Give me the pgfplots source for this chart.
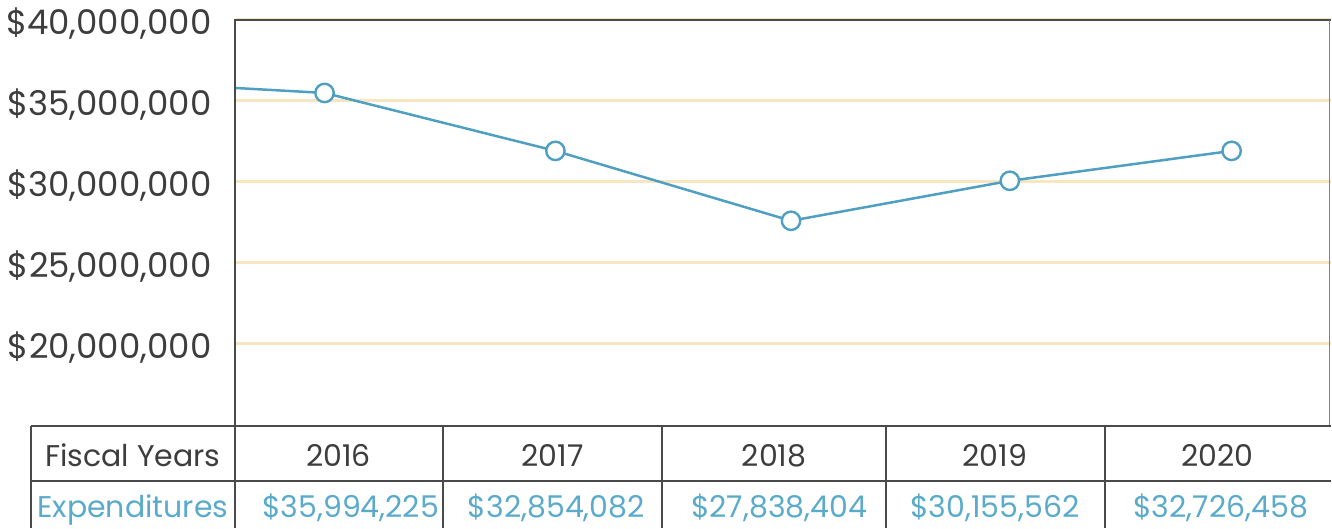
\documentclass[border=0pt]{standalone}
\usepackage{pgfplots}
\pgfplotsset{compat=1.18}
\usepackage{fontspec}
\setmainfont{Poppins}
\definecolor{ink}{HTML}{3D3D3D}
\definecolor{framegray}{HTML}{4A4A4A}
\definecolor{lineblue}{HTML}{4E9FC2}
\definecolor{textblue}{HTML}{5AAACB}
\definecolor{gridbeige}{HTML}{F8E6C2}

\begin{document}
\begin{tikzpicture}
% axis placed in pt; pixel p maps to 0.5p pt, image top-left at origin
\begin{axis}[
    at={(117.5pt,-212.5pt)}, anchor=south west,
    scale only axis,
    width=548.5pt, height=202.5pt,
    xmin=2015.604, xmax=2020.436,
    ymin=15000000, ymax=40000000,
    axis line style={draw=none},
    xtick=\empty,
    ytick={20000000,25000000,30000000,35000000,40000000},
    yticklabels={{\$20,000,000},{\$25,000,000},{\$30,000,000},{\$35,000,000},{\$40,000,000}},
    scaled y ticks=false,
    major tick length=0pt,
    yticklabel style={font=\fontsize{17}{20}\selectfont, text=ink,
        anchor=base east, inner sep=0pt, xshift=-11.5pt, yshift=-7.5pt},
    ymajorgrids,
    major grid style={gridbeige, line width=1.5pt},
    clip=false,
]
    % left point is where the line leaves the plot edge
    \addplot[lineblue, line width=1.25pt, mark=*, mark indices={2,...,6},
        mark size=4.6pt, mark options={fill=white, draw=lineblue, line width=1.2pt}]
        coordinates {
        (2015.604, 35800000)
        (2016.000, 35490000)
        (2017.018, 31910000)
        (2018.057, 27590000)
        (2019.022, 30060000)
        (2020.000, 31910000)
    };
\end{axis}

\begin{scope}[x=0.5pt,y=-0.5pt]
\path[use as bounding box] (0,0) rectangle (1332,529);
% frame
\draw[framegray, line width=1pt] (234.5,20) -- (1332,20);
\draw[gray, line width=0.5pt] (1330.5,20) -- (1330.5,426);
\draw[framegray, line width=1pt] (235,20) -- (235,529);

% table
\draw[framegray, line width=1pt] (31,426) -- (1332,426);
\draw[framegray, line width=1pt] (31,482) -- (1332,482);
\foreach \xx in {31,443,663,887,1106}
    \draw[framegray, line width=1pt] (\xx,426) -- (\xx,529);

\begin{scope}[every node/.style={anchor=base, inner sep=0pt, font=\fontsize{15}{18}\selectfont}]
\node[text=ink] at (133,467.5) {Fiscal Years};
\node[text=ink] at (339,467.5) {2016};
\node[text=ink] at (553,467.5) {2017};
\node[text=ink] at (775,467.5) {2018};
\node[text=ink] at (996,467.5) {2019};
\node[text=ink] at (1219,467.5) {2020};
\node[text=textblue] at (133,518) {Expenditures};
\node[text=textblue] at (351,518) {\$35,994,225};
\node[text=textblue] at (557,518) {\$32,854,082};
\node[text=textblue] at (780,518) {\$27,838,404};
\node[text=textblue] at (996,518) {\$30,155,562};
\node[text=textblue] at (1222,518) {\$32,726,458};
\end{scope}
\end{scope}
\end{tikzpicture}
\end{document}
